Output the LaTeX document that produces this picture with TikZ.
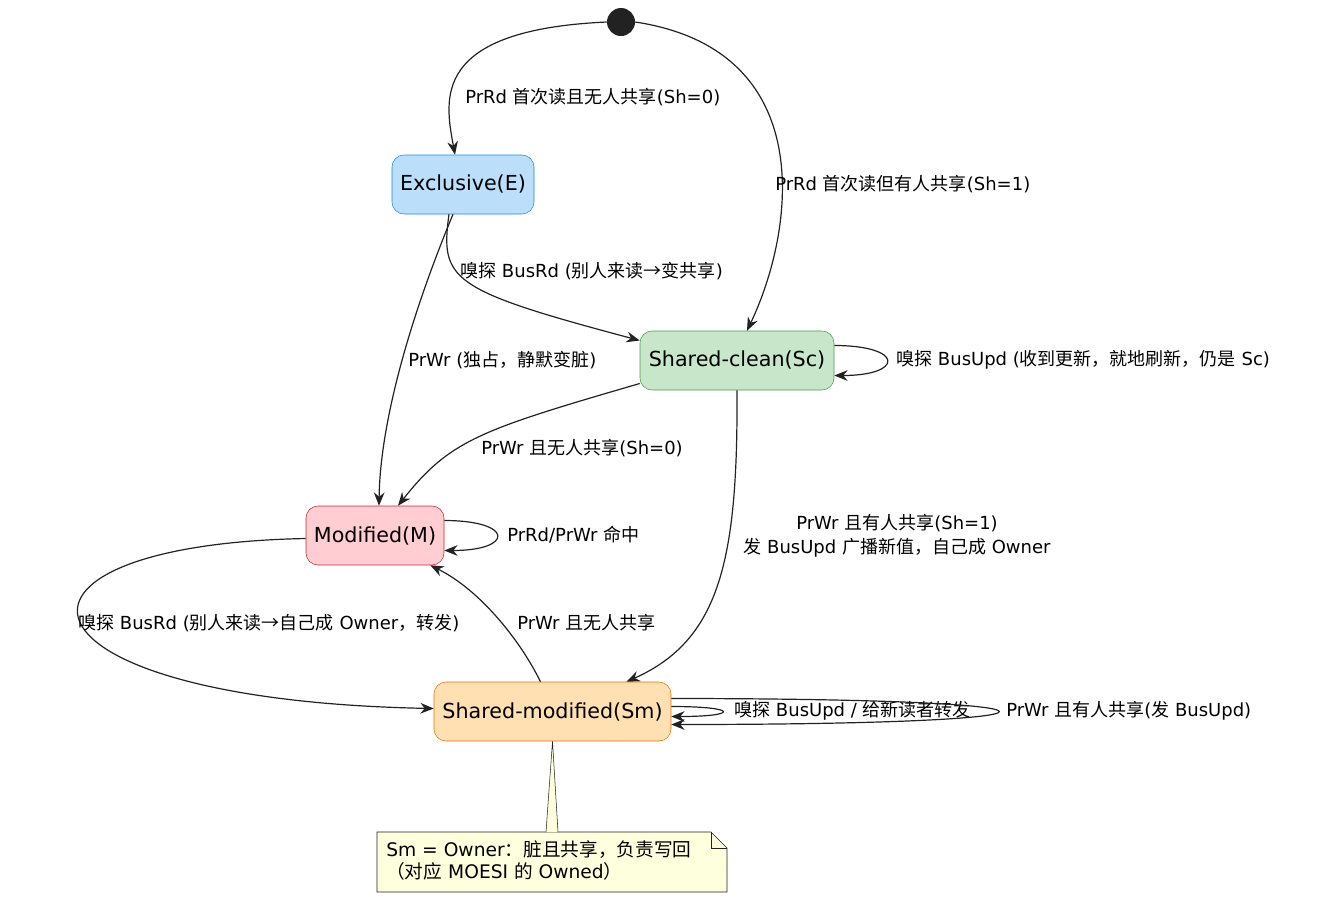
\documentclass[tikz,border=0pt]{standalone}
\usepackage{fontspec}
\setmainfont{DejaVu Sans}
\newfontfamily\cjk{Noto Sans CJK SC}
\usepackage{tikz}
\usetikzlibrary{arrows.meta,calc}
\definecolor{eFill}{HTML}{BBDEFB}\definecolor{eLine}{HTML}{1E88E5}
\definecolor{scFill}{HTML}{C8E6C9}\definecolor{scLine}{HTML}{43A047}
\definecolor{mFill}{HTML}{FFCDD2}\definecolor{mLine}{HTML}{C62828}
\definecolor{smFill}{HTML}{FFE0B2}\definecolor{smLine}{HTML}{EF6C00}
\definecolor{noteFill}{HTML}{FEFFDD}\definecolor{ink}{HTML}{222222}
\newcommand{\zh}[1]{{\cjk #1}}
\tikzset{
	state/.style={draw, rounded corners=9pt, minimum height=44.25pt, font=\fontsize{15.5}{18}\selectfont, text=black},
	arr/.style={-{Stealth[length=10pt,width=8pt]}, ink, line width=0.9pt},
	lbl/.style={font=\fontsize{13.5}{18}\selectfont, text=black, inner sep=0pt}
}
\begin{document}
\begin{tikzpicture}[x=0.75pt,y=-0.75pt]
	\useasboundingbox (0,0) rectangle (1318,901);
	
	% states
	\node[circle, fill=ink, minimum size=21pt, inner sep=0pt] (start) at (621,22) {};
	\node[state, fill=eFill, draw=eLine, minimum width=106.5pt] (E) at (463,184.5) {Exclusive(E)};
	\node[state, fill=scFill, draw=scLine, minimum width=145.5pt] (Sc) at (737,360.5) {Shared-clean(Sc)};
	\node[state, fill=mFill, draw=mLine, minimum width=103.5pt] (M) at (375,535.5) {Modified(M)};
	\node[state, fill=smFill, draw=smLine, minimum width=177.75pt] (Sm) at (552.5,711.5) {Shared-modified(Sm)};
	
	% transitions
	\draw[arr] (start.west) .. controls (430,30) and (445,100) .. ($(E.north)+(-8,0)$);
	\node[lbl, anchor=west] at (465,97) {PrRd \zh{首次读且无人共享}(Sh=0)};
	\draw[arr] (start.east) .. controls (820,50) and (795,230) .. ($(Sc.north)+(10,0)$);
	\node[lbl, anchor=west] at (775,184) {PrRd \zh{首次读但有人共享}(Sh=1)};
	\draw[arr] ($(E.south)+(-14,0)$) .. controls (440,280) and (450,290) .. ($(Sc.west)+(0,-20)$);
	\node[lbl, anchor=west] at (460,271) {\zh{嗅探} BusRd (\zh{别人来读→变共享})};
	\draw[arr] ($(E.south)+(-10,0)$) .. controls (405,330) and (380,430) .. ($(M.north)+(4,0)$);
	\node[lbl, anchor=west] at (408,360) {PrWr (\zh{独占，静默变脏})};
	\draw[arr] ($(Sc.east)+(0,-15)$) .. controls +(70,0) and +(70,0) .. ($(Sc.east)+(0,15)$);
	\node[lbl, anchor=west] at (896,360) {\zh{嗅探} BusUpd (\zh{收到更新，就地刷新，仍是} Sc)};
	\draw[arr] ($(Sc.west)+(0,23)$) .. controls (480,430) and (450,440) .. ($(M.north)+(23,0)$);
	\node[lbl, anchor=west] at (481,448) {PrWr \zh{且无人共享}(Sh=0)};
	\draw[arr] (Sc.south) .. controls (738,560) and (720,640) .. ($(Sm.north)+(74,0)$);
	\node[lbl, align=center] at (897,536) {PrWr \zh{且有人共享}(Sh=1)\\\zh{发} BusUpd \zh{广播新值，自己成} Owner};
	\draw[arr] ($(M.east)+(0,-15)$) .. controls +(70,0) and +(70,0) .. ($(M.east)+(0,15)$);
	\node[lbl, anchor=west] at (507,535) {PrRd/PrWr \zh{命中}};
	\draw[arr] ($(M.west)+(0,3)$) .. controls (-30,545) and (0,700) .. ($(Sm.west)+(0,-3)$);
	\node[lbl, anchor=west] at (78,623) {\zh{嗅探} BusRd (\zh{别人来读→自己成} Owner\zh{，转发})};
	\draw[arr] ($(Sm.north)+(-12,0)$) .. controls (520,640) and (480,590) .. ($(M.south east)+(-14,0)$);
	\node[lbl, anchor=west] at (517,623) {PrWr \zh{且无人共享}};
	\draw[arr] ($(Sm.east)+(0,-5)$) .. controls +(68,0) and +(68,0) .. ($(Sm.east)+(0,5)$);
	\node[lbl, anchor=west] at (734,711) {\zh{嗅探} BusUpd / \zh{给新读者转发}};
	\draw[arr] ($(Sm.east)+(0,-13)$) .. controls +(436,0) and +(436,0) .. ($(Sm.east)+(0,13)$);
	\node[lbl, anchor=west] at (1006,711) {PrWr \zh{且有人共享}(\zh{发} BusUpd)};
	
	% note
	\draw[ink, fill=noteFill, thin] (377,832) -- (711,832) -- (727,848) -- (727,892) -- (377,892) -- cycle;
	\draw[ink, thin] (711,832) -- (711,848) -- (727,848);
	\draw[ink, thin, fill=noteFill] (546,832) -- (Sm.south) -- (558,832);
	\node[lbl, anchor=north west, align=left, font=\fontsize{14}{16.5}\selectfont] (note) at (386,840)
		{Sm = Owner\zh{：脏且共享，负责写回}\\\zh{（对应} MOESI \zh{的} Owned\zh{）}};
\end{tikzpicture}
\end{document}
